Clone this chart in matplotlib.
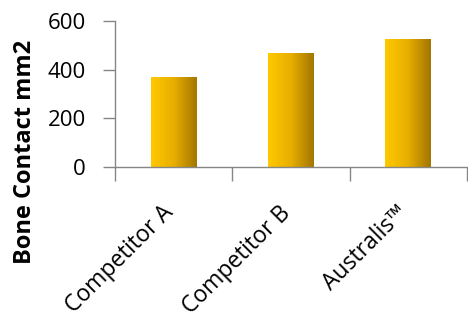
import matplotlib
matplotlib.use("Agg")
import matplotlib.pyplot as plt
import numpy as np
from matplotlib.colors import LinearSegmentedColormap
from matplotlib.transforms import ScaledTranslation

categories = ["Competitor A", "Competitor B", "Australis\u2122"]
values = [368, 467, 526]
yticks = [0, 200, 400, 600]

W, H = 468, 323
DPI = 100
fig = plt.figure(figsize=(W / DPI, H / DPI), dpi=DPI)
ax = fig.add_axes([115 / W, 1 - 166.7 / H, (467 - 115) / W, 145.7 / H])

font = ["Open Sans", "DejaVu Sans"]
grey = "#868686"
cmap = LinearSegmentedColormap.from_list("g", ["#FFC900", "#E8AE00", "#A27600"])
grad = np.linspace(0, 1, 256).reshape(1, -1)

x = np.arange(len(categories)) + 0.5
bw = 0.39
bars = ax.bar(x, values, width=bw, color="none", edgecolor="none")
for b in bars:
    x0, y0 = b.get_x(), b.get_y()
    im = ax.imshow(grad, cmap=cmap, aspect="auto",
                   extent=(x0, x0 + b.get_width(), y0, y0 + b.get_height()),
                   zorder=2)
    im.set_clip_path(b)

ax.set_xlim(0, 2.95)
ax.set_ylim(0, 600)
ax.set_yticks(yticks)
ax.set_yticklabels([str(t) for t in yticks], fontsize=16, family=font, color="black")
ax.set_xticks([0, 1, 2, 3])
ax.set_xticklabels([])
ax.tick_params(axis="x", which="major", length=10, color=grey, width=1)
ax.tick_params(axis="y", length=9, color=grey, width=1, pad=12)

# category labels, rotated 45 degrees
off = ScaledTranslation(0 / DPI, -47 / DPI, fig.dpi_scale_trans)
for xi, lab in zip(x, categories):
    ax.text(xi, 0, lab, transform=ax.transData + off, rotation=45,
            ha="right", va="baseline", rotation_mode="anchor",
            fontsize=16.5, family=font, color="black", clip_on=False)

for s in ["top", "right"]:
    ax.spines[s].set_visible(False)
for s in ["left", "bottom"]:
    ax.spines[s].set_color(grey)
    ax.spines[s].set_linewidth(1)

fig.text(25.5 / W, 1 - 151.5 / H, "Bone Contact mm2", rotation=90,
         ha="center", va="center", fontsize=17, fontweight="bold", family=font)

fig.savefig("out.png", dpi=DPI)
